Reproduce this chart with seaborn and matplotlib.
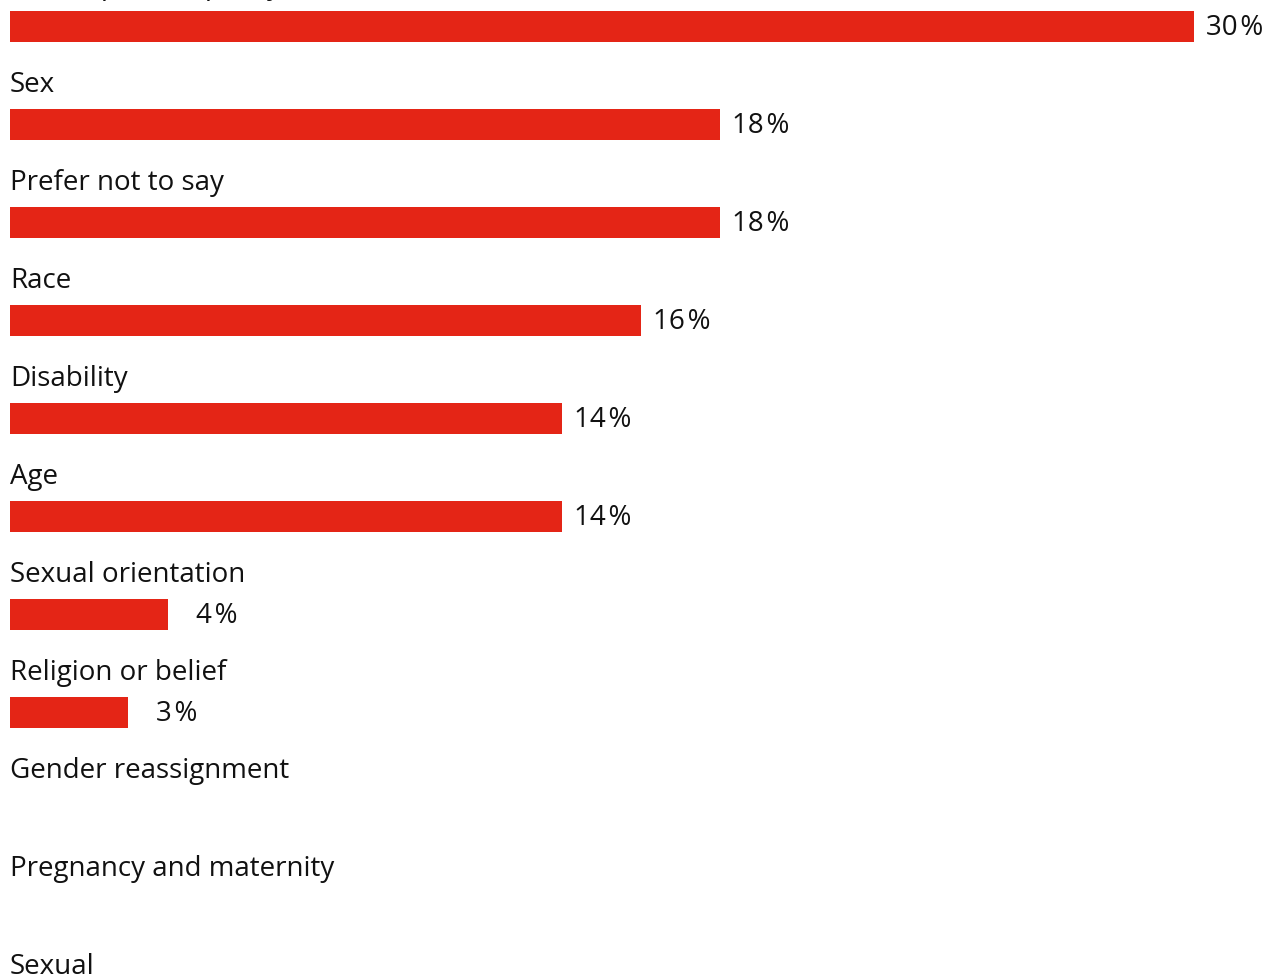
import matplotlib
matplotlib.use("Agg")
import matplotlib.pyplot as plt
import seaborn as sns
import pandas as pd

categories = [
    "Other (please specify)",
    "Sex",
    "Prefer not to say",
    "Race",
    "Disability",
    "Age",
    "Sexual orientation",
    "Religion or belief",
    "Gender reassignment",
    "Pregnancy and maternity",
    "Sexual",
]
values = [30, 18, 18, 16, 14, 14, 4, 3, 0, 0, 0]

BAR_COLOR = "#E42516"
FONT = ["Open Sans", "DejaVu Sans"]

sns.set_theme(style="white")
plt.rcParams["font.family"] = FONT

df = pd.DataFrame({"category": categories, "value": values})

fig = plt.figure(figsize=(12.74, 9.77), dpi=100)
ax = fig.add_axes([0, 0, 1, 1])

sns.barplot(data=df, x="value", y="category", orient="h", color=BAR_COLOR,
            saturation=1, width=0.316, linewidth=0, ax=ax)

px_per_unit = 39.45
ax.set_xlim(-10 / px_per_unit, (1274 - 10) / px_per_unit)
top = -26.5 / 98
ax.set_ylim(top + 977 / 98, top)
ax.axis("off")

for i, (cat, val) in enumerate(zip(categories, values)):
    ax.text(0, i - 0.33, cat, ha="left", va="baseline", fontsize=20,
            color="#111111")
    if val > 0:
        ax.annotate(f"{val}\u200a%", xy=(val, i + 0.02), xytext=(50, 0),
                    textcoords="offset points", ha="right", va="center",
                    fontsize=20, color="#111111")

fig.savefig("out.png", dpi=100)
